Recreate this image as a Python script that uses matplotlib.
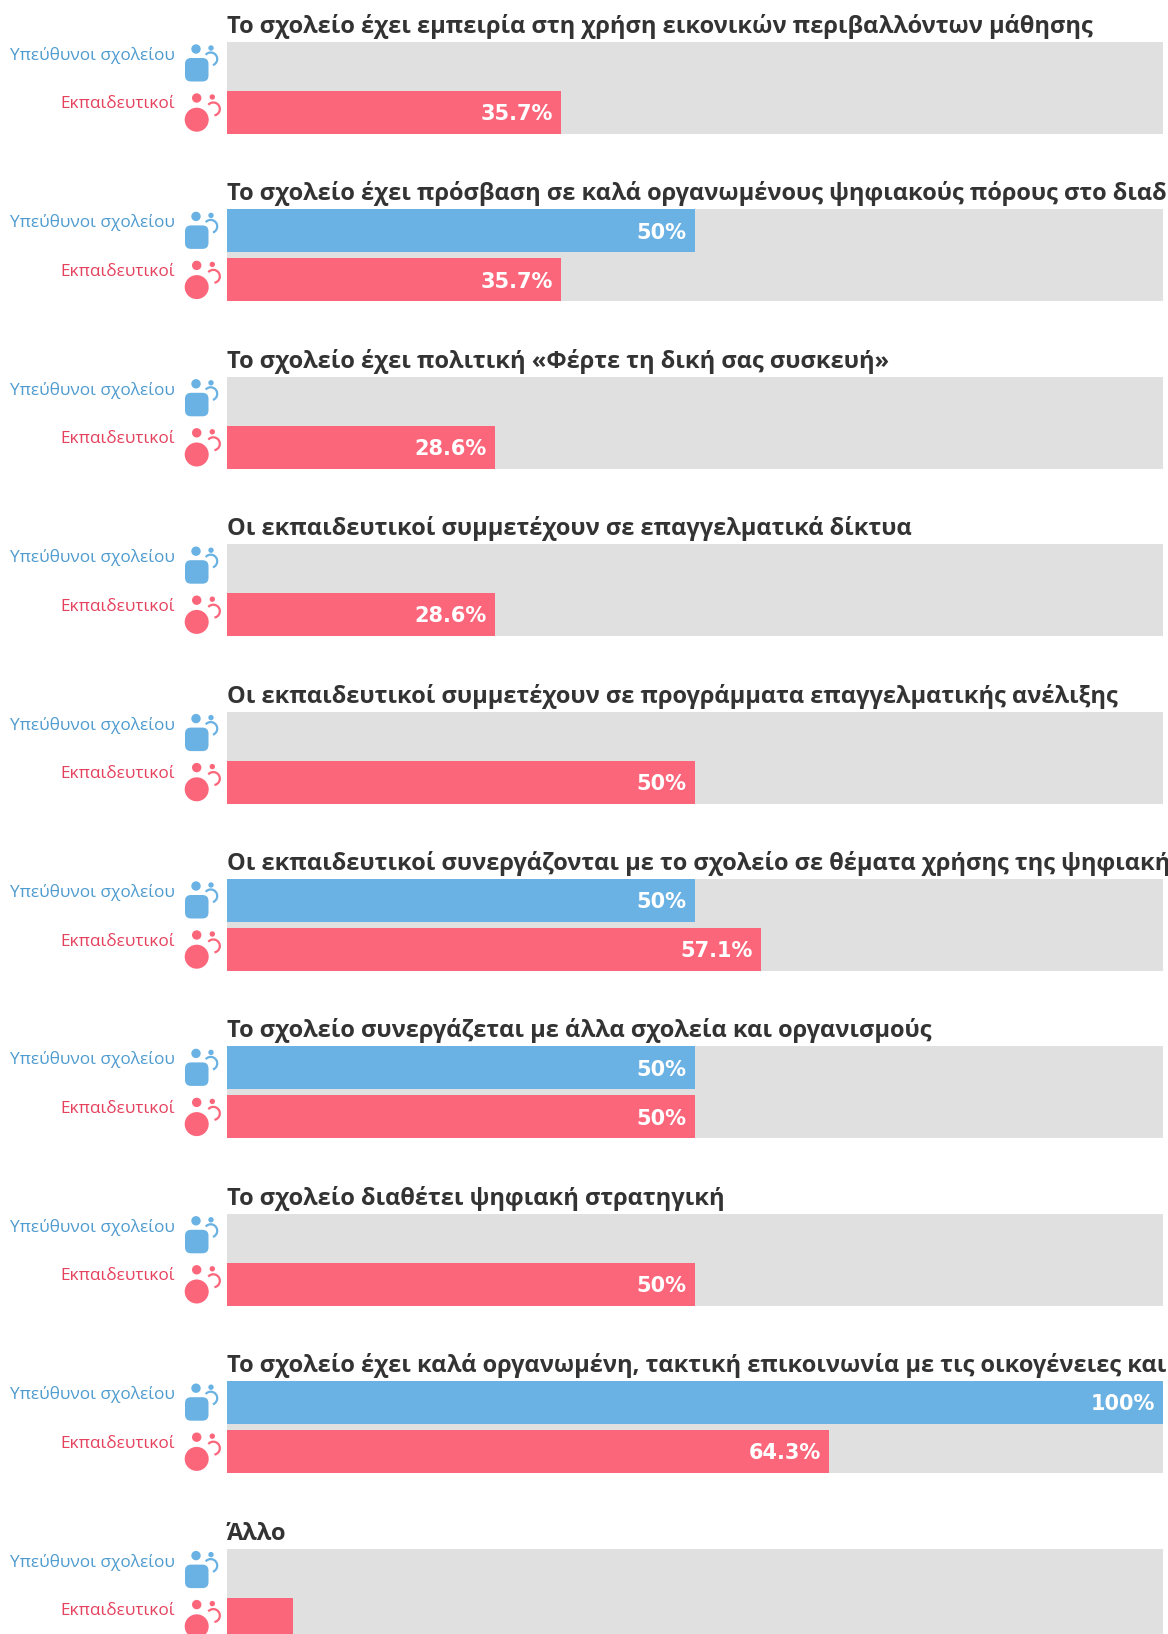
import matplotlib
matplotlib.use("Agg")
import matplotlib.pyplot as plt
from matplotlib.patches import Circle, Arc, FancyBboxPatch, Rectangle

titles = [
    "Το σχολείο έχει εμπειρία στη χρήση εικονικών περιβαλλόντων μάθησης",
    "Το σχολείο έχει πρόσβαση σε καλά οργανωμένους ψηφιακούς πόρους στο διαδίκτυο",
    "Το σχολείο έχει πολιτική «Φέρτε τη δική σας συσκευή»",
    "Οι εκπαιδευτικοί συμμετέχουν σε επαγγελματικά δίκτυα",
    "Οι εκπαιδευτικοί συμμετέχουν σε προγράμματα επαγγελματικής ανέλιξης",
    "Οι εκπαιδευτικοί συνεργάζονται με το σχολείο σε θέματα χρήσης της ψηφιακής τεχνολογίας",
    "Το σχολείο συνεργάζεται με άλλα σχολεία και οργανισμούς",
    "Το σχολείο διαθέτει ψηφιακή στρατηγική",
    "Το σχολείο έχει καλά οργανωμένη, τακτική επικοινωνία με τις οικογένειες και τους φορείς",
    "Άλλο",
]
leaders = [0, 50, 0, 0, 0, 50, 50, 0, 100, 0]
teachers = [35.7, 35.7, 28.6, 28.6, 50, 57.1, 50, 50, 64.3, 7.1]
group_labels = ["Υπεύθυνοι σχολείου", "Εκπαιδευτικοί"]

W, H = 1168, 1634
BLUE, RED = "#6AB2E3", "#FC667B"
BLUE_TXT, RED_TXT = "#4E9BCF", "#E5425E"
GREY = "#E0E0E0"

LEFT, RIGHT = 227, 1163
TOP0, PITCH = 42, 167.4
AX_H = 92
BAR_H = 43 / 49
TICK_SHIFT = 10 / 49


def fmt(v):
    return f"{v:g}%"


def draw_icon_blue(ax, top):
    ax.add_patch(Circle((196, top + 7), 4.7, color=BLUE, lw=0))
    ax.add_patch(FancyBboxPatch((191, top + 22), 11.5, 11.5, boxstyle="round,pad=6,rounding_size=6",
                                color=BLUE, lw=0))
    ax.add_patch(Circle((211, top + 6), 2.7, color=BLUE, lw=0))
    ax.add_patch(Arc((210.7, top + 17), 13, 13, theta1=-140, theta2=70, color=BLUE, lw=1.6))


def draw_icon_red(ax, top):
    ax.add_patch(Circle((196.7, top + 56), 4.7, color=RED, lw=0))
    ax.add_patch(Circle((196.7, top + 77.7), 12, color=RED, lw=0))
    ax.add_patch(Circle((212.3, top + 55), 2.7, color=RED, lw=0))
    ax.add_patch(Arc((213.3, top + 67), 13, 13, theta1=-140, theta2=80, color=RED, lw=1.6))


fig = plt.figure(figsize=(W / 100, H / 100), dpi=100, facecolor="white")

for i, (lead, teach) in enumerate(zip(leaders, teachers)):
    top = TOP0 + i * PITCH
    ax = fig.add_axes([LEFT / W, 1 - (top + AX_H) / H, (RIGHT - LEFT) / W, AX_H / H], facecolor=GREY)
    ax.barh([0, 1], [lead, teach], height=BAR_H, color=[BLUE, RED])
    ax.set_xlim(0, 100)
    ax.set_ylim(1 + BAR_H / 2, -BAR_H / 2)
    ax.set_xticks([])
    ax.set_yticks([0 - TICK_SHIFT, 1 - TICK_SHIFT], group_labels, fontfamily="Open Sans",
                  fontweight="normal", fontsize=12.4)
    ax.tick_params(axis="y", length=0, pad=37.5)
    for lab, c in zip(ax.get_yticklabels(), [BLUE_TXT, RED_TXT]):
        lab.set_color(c)
    ax.spines[:].set_visible(False)
    # the smallest bars carry no value label
    for y, v in enumerate([lead, teach]):
        if v >= 10:
            ax.annotate(fmt(v), (v, y), xytext=(-6, -1.2), textcoords="offset points",
                        ha="right", va="center", color="white", fontweight="bold", fontsize=15)

# overlay in pixel units for the titles and person icons
ov = fig.add_axes([0, 0, 1, 1], facecolor="none")
ov.set_xlim(0, W)
ov.set_ylim(H, 0)
ov.axis("off")
clip = Rectangle((0, 0), RIGHT, H, transform=ov.transData)
for i, t in enumerate(titles):
    top = TOP0 + i * PITCH
    txt = ov.text(LEFT, top - 9, t, ha="left", va="baseline", color="#333333",
                  fontfamily="Open Sans", fontweight="bold", fontsize=17)
    txt.set_clip_path(clip)
    draw_icon_blue(ov, top)
    draw_icon_red(ov, top)

fig.savefig("out.png", dpi=100)
